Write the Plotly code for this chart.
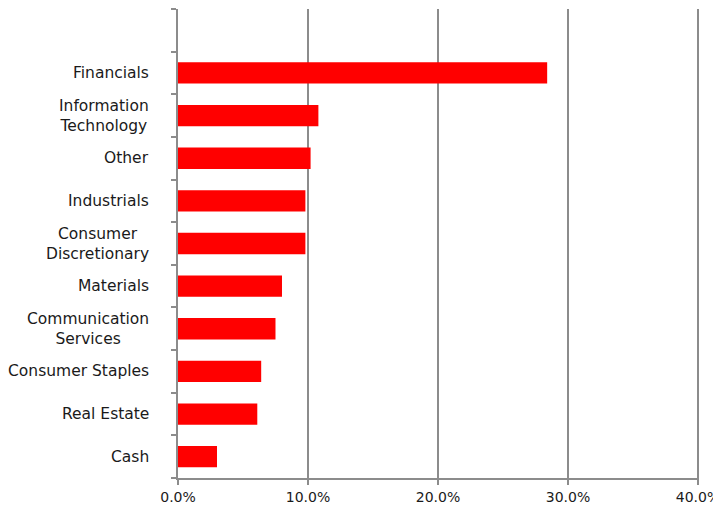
import plotly.graph_objects as go

categories = ["Cash", "Real Estate", "Consumer Staples", "Communication<br>Services",
              "Materials", "Consumer<br>Discretionary", "Industrials", "Other",
              "Information<br>Technology", "Financials", " "]
values = [3.0, 6.1, 6.4, 7.5, 8.0, 9.8, 9.8, 10.2, 10.8, 28.4, None]
x_ticks = [0, 10, 20, 30, 40]
x_tick_labels = ["0.0%", "10.0%", "20.0%", "30.0%", "40.0%"]

fig = go.Figure(go.Bar(
    x=values, y=categories, orientation="h",
    marker=dict(color="#FF0000", line=dict(width=0)),
))

axis_gray = "#8c8c8c"
text_color = "#1a1a1a"

for cat in categories:
    if cat.strip():
        fig.add_annotation(
            x=0, xref="paper", xanchor="right", xshift=-27,
            y=cat, yref="y", yanchor="middle",
            text=cat, showarrow=False, align="center",
            font=dict(family="DejaVu Sans", size=15.5, color=text_color),
        )

fig.update_layout(
    width=713, height=500,
    margin=dict(l=170, r=22, t=1, b=30, autoexpand=False),
    paper_bgcolor="white", plot_bgcolor="white",
    bargap=0.5,
    showlegend=False,
    font=dict(family="DejaVu Sans", size=14, color=text_color),
    xaxis=dict(
        range=[0, 40.08], tickvals=x_ticks, ticktext=x_tick_labels,
        showgrid=True, gridcolor=axis_gray, gridwidth=1.5,
        showline=True, linecolor=axis_gray, linewidth=1.5,
        ticks="outside", ticklen=5, tickcolor=axis_gray, tickwidth=1.5,
        zeroline=False, fixedrange=True, automargin=False,
    ),
    yaxis=dict(
        type="category", categoryorder="array", categoryarray=categories,
        showline=True, linecolor=axis_gray, linewidth=1.5,
        ticks="outside", ticklen=5, tickcolor=axis_gray, tickwidth=1.5,
        tickson="boundaries", showgrid=False, showticklabels=False,
        fixedrange=True, automargin=False,
    ),
)

fig.write_html("out.html")
